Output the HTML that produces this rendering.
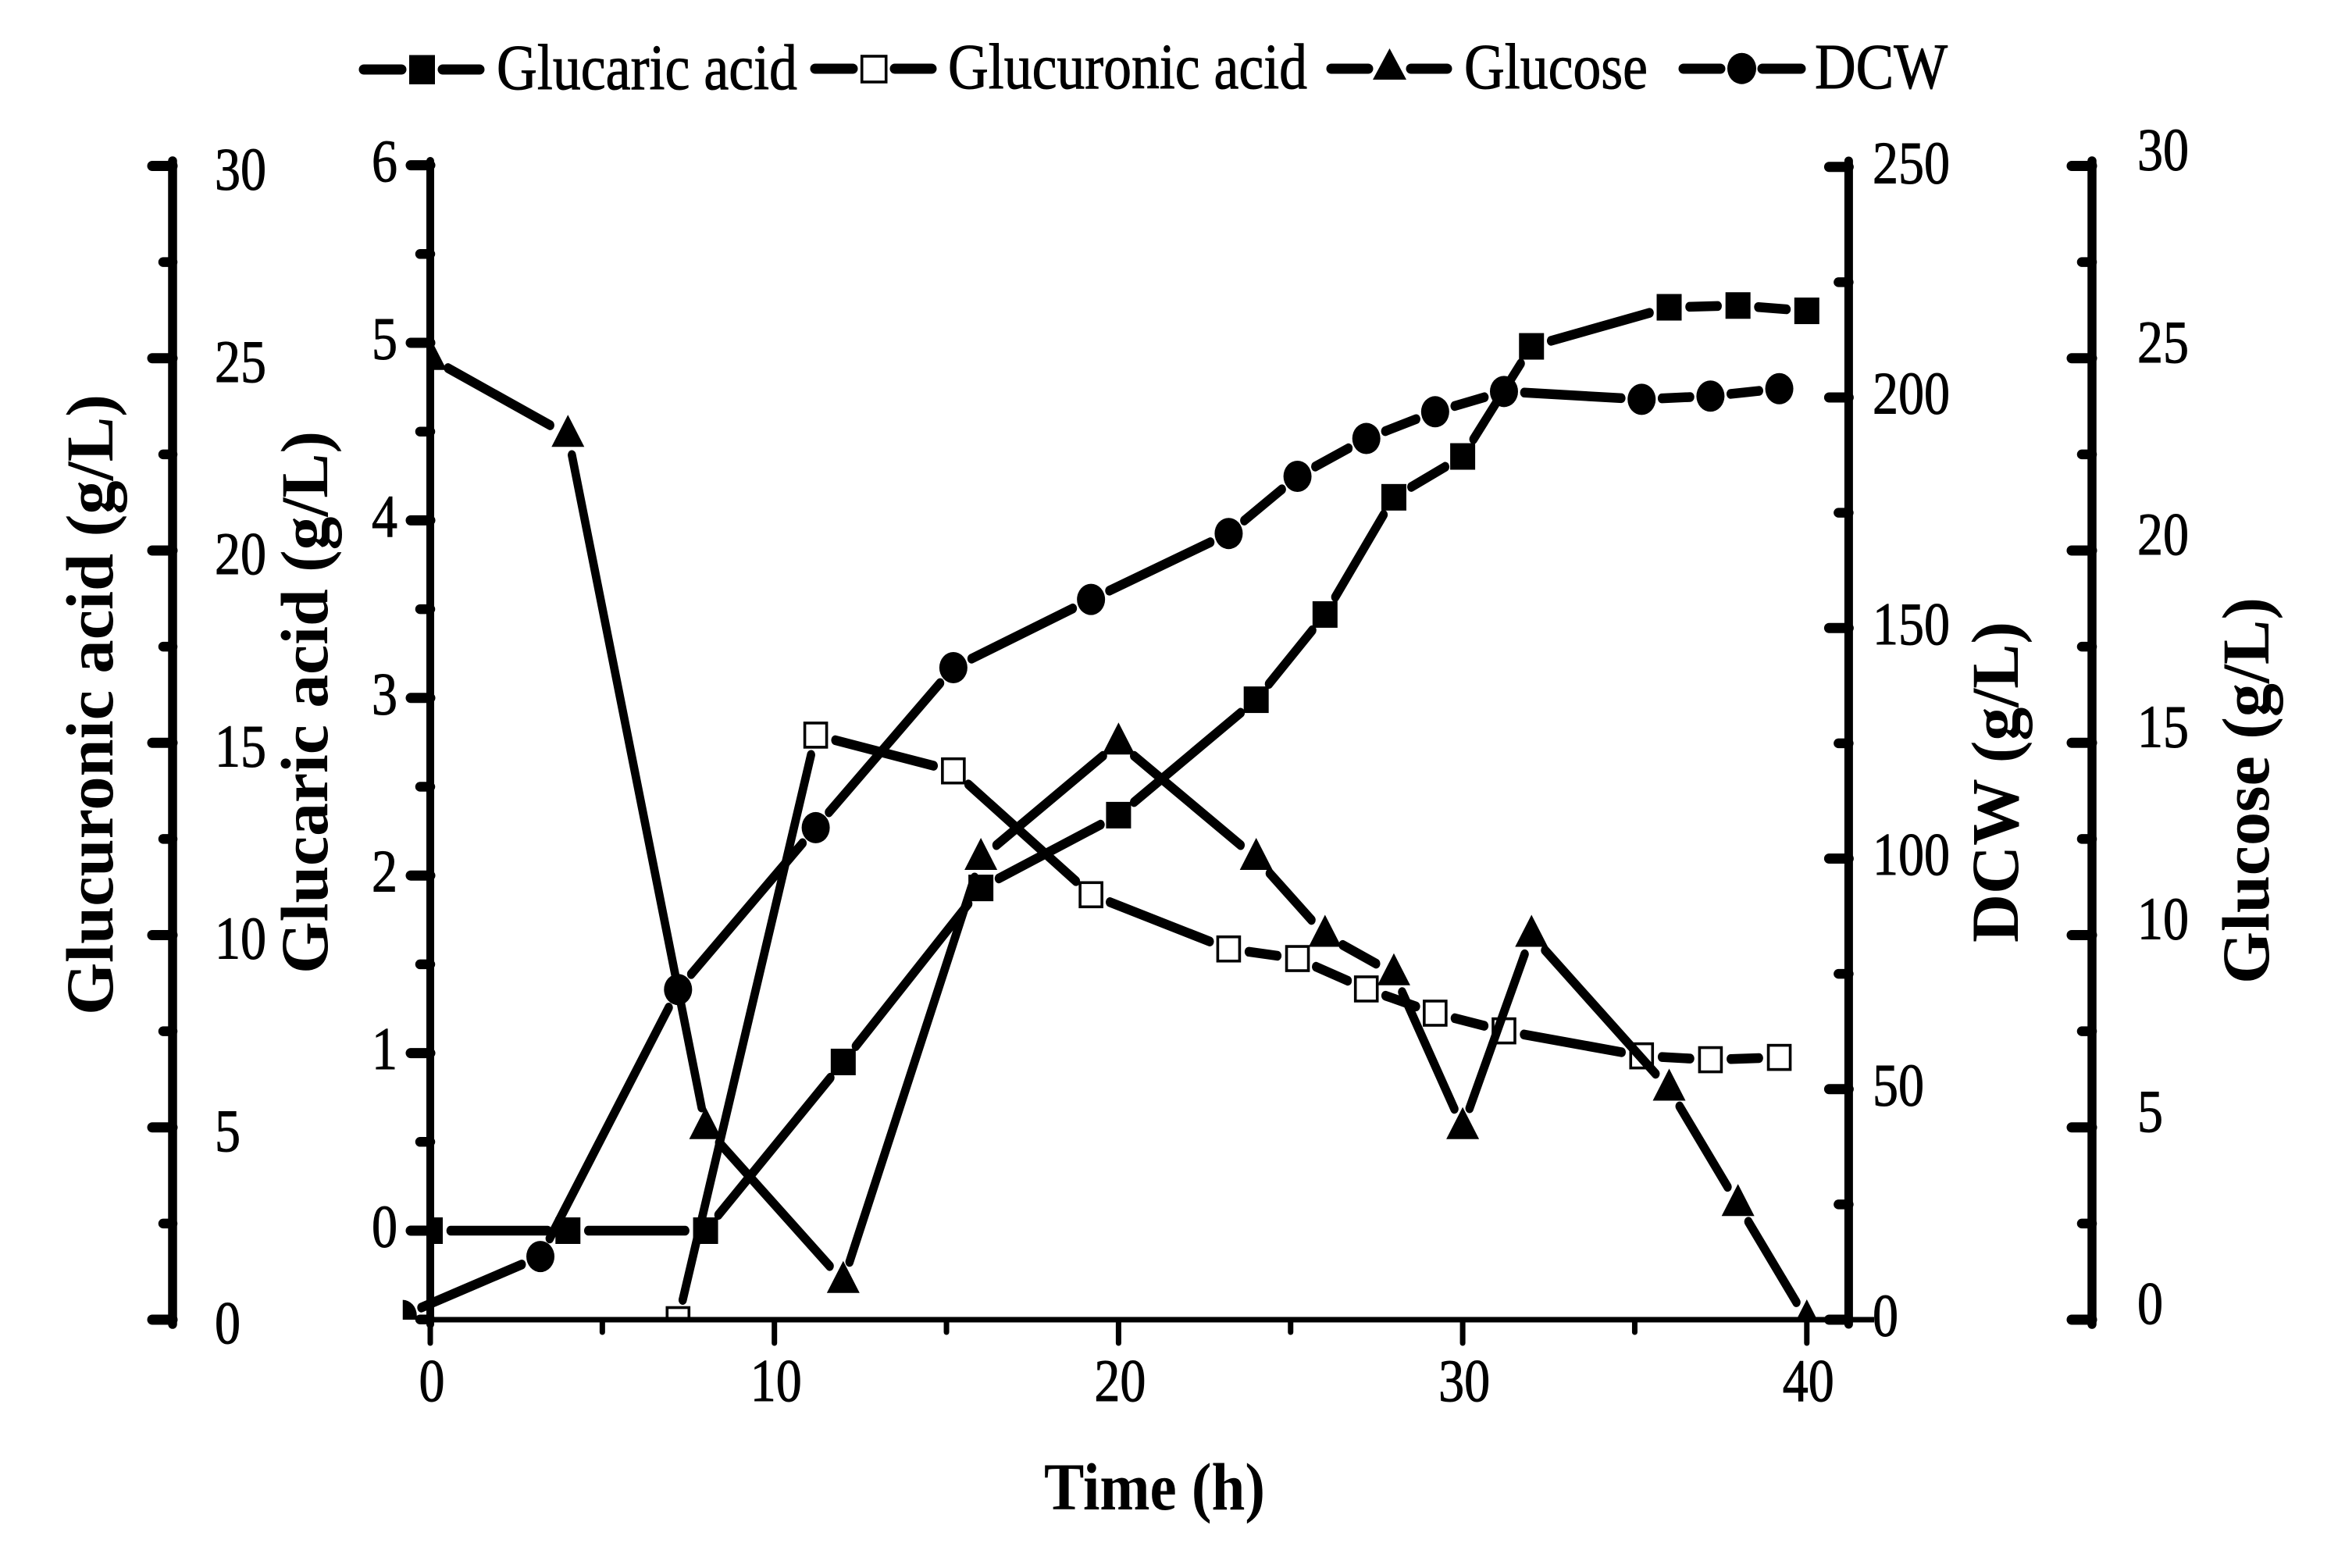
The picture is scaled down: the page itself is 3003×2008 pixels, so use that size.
<!DOCTYPE html>
<html lang="en">
<head>
<meta charset="utf-8">
<title>Fermentation time course</title>
<style>
html,body{margin:0;padding:0;background:#fff;width:3003px;height:2008px;overflow:hidden}
svg{display:block}
text{font-family:"Liberation Serif",serif;fill:#000}
.leg{font-size:83px;stroke:#000;stroke-width:1}
.title{font-size:86px;font-weight:bold}
.tick-label{font-size:77px;stroke:#000;stroke-width:1}
</style>
</head>
<body>
<svg id="chart" xmlns="http://www.w3.org/2000/svg" width="3003" height="2008" viewBox="0 0 3003 2008">
  <rect x="0" y="0" width="3003" height="2008" fill="#fff"/>
  <g id="series-layer"></g>
  <g id="axes-layer"></g>

  <g>
    <g>
      <line x1="466" y1="89" x2="514" y2="89" stroke="#000" stroke-width="13" stroke-linecap="round"/>
      <rect x="524" y="70.5" width="33" height="37.5" fill="#000"/>
      <line x1="567" y1="89" x2="614" y2="89" stroke="#000" stroke-width="13" stroke-linecap="round"/>
      <text class="leg" x="636" y="114" textLength="385" lengthAdjust="spacingAndGlyphs">Glucaric acid</text>
    </g>
    <g>
      <line x1="1044" y1="88" x2="1092" y2="88" stroke="#000" stroke-width="13" stroke-linecap="round"/>
      <rect x="1103.7" y="72" width="31" height="33" fill="#fff" stroke="#000" stroke-width="3.6"/>
      <line x1="1146" y1="88" x2="1193" y2="88" stroke="#000" stroke-width="13" stroke-linecap="round"/>
      <text class="leg" x="1214" y="113" textLength="460" lengthAdjust="spacingAndGlyphs">Glucuronic acid</text>
    </g>
    <g>
      <line x1="1705" y1="88" x2="1752" y2="88" stroke="#000" stroke-width="13" stroke-linecap="round"/>
      <polygon points="1779.5,62 1801,102 1758,102" fill="#000"/>
      <line x1="1807" y1="88" x2="1853" y2="88" stroke="#000" stroke-width="13" stroke-linecap="round"/>
      <text class="leg" x="1875" y="113" textLength="235" lengthAdjust="spacingAndGlyphs">Glucose</text>
    </g>
    <g>
      <line x1="2156" y1="88" x2="2203" y2="88" stroke="#000" stroke-width="13" stroke-linecap="round"/>
      <ellipse cx="2230.5" cy="87.7" rx="18.5" ry="20" fill="#000"/>
      <line x1="2257" y1="88" x2="2306" y2="88" stroke="#000" stroke-width="13" stroke-linecap="round"/>
      <text class="leg" x="2324" y="113" textLength="170" lengthAdjust="spacingAndGlyphs">DCW</text>
    </g>
  </g>

  <text class="title" x="1337" y="1933" textLength="283" lengthAdjust="spacingAndGlyphs">Time (h)</text>
  <text class="title" transform="translate(144,1300) rotate(-90)" x="0" y="0" textLength="795" lengthAdjust="spacingAndGlyphs">Glucuronic acid (g/L)</text>
  <text class="title" transform="translate(419,1247) rotate(-90)" x="0" y="0" textLength="695" lengthAdjust="spacingAndGlyphs">Glucaric acid (g/L)</text>
  <text class="title" transform="translate(2584,1207) rotate(-90)" x="0" y="0" textLength="411" lengthAdjust="spacingAndGlyphs">DCW (g/L)</text>
  <text class="title" transform="translate(2905,1260) rotate(-90)" x="0" y="0" textLength="495" lengthAdjust="spacingAndGlyphs">Glucose (g/L)</text>
</svg>

<script>
// ---- data ----
const timesOnHour = [0, 4, 8, 12, 16, 20, 24, 26, 28, 30, 32, 36, 38, 40];
const timesOffset = [-0.8, 3.2, 7.2, 11.2, 15.2, 19.2, 23.2, 25.2, 27.2, 29.2, 31.2, 35.2, 37.2, 39.2];
const timesGlucuronic = [7.2, 11.2, 15.2, 19.2, 23.2, 25.2, 27.2, 29.2, 31.2, 35.2, 37.2, 39.2];
const glucaricValues = [0, 0, 0, 0.95, 1.93, 2.34, 2.99, 3.47, 4.13, 4.36, 4.98, 5.2, 5.21, 5.18];
const glucuronicValues = [0, 15.2, 14.27, 11.05, 9.64, 9.39, 8.6, 7.97, 7.51, 6.86, 6.76, 6.82];
const glucoseValues = [25, 23, 5, 1, 12, 15, 12, 10, 9, 5, 10, 6, 3, 0];
const dcwValues = [0.9, 13.7, 71.6, 106.7, 141.4, 156.2, 170.5, 182.9, 191.1, 196.9, 201.3, 199.6, 200.3, 201.9];

const xMajorTicks = [0, 10, 20, 30, 40];
const xMinorTicks = [5, 15, 25, 35];
const glucuronicMajorTicks = [0, 5, 10, 15, 20, 25, 30];
const glucuronicMinorTicks = [2.5, 7.5, 12.5, 17.5, 22.5, 27.5];
const glucaricMajorTicks = [0, 1, 2, 3, 4, 5, 6];
const glucaricMinorTicks = [-0.5, 0.5, 1.5, 2.5, 3.5, 4.5, 5.5];
const dcwMajorTicks = [0, 50, 100, 150, 200, 250];
const dcwMinorTicks = [25, 75, 125, 175, 225];
const glucoseMajorTicks = [0, 5, 10, 15, 20, 25, 30];
const glucoseMinorTicks = [2.5, 7.5, 12.5, 17.5, 22.5, 27.5];

// ---- axis functions ----
const PLOT_BOTTOM = 1690;
function xScale(t) { return 551 + 44.07 * t; }
function yGlucaric(v) { return 1576 - 227.4 * v; }
function yGlucuronic(v) { return PLOT_BOTTOM - 49.25 * v; }
function yGlucose(v) { return PLOT_BOTTOM - 49.25 * v; }
function yDcw(v) { return PLOT_BOTTOM - 5.905 * v; }

const SVGNS = 'http://www.w3.org/2000/svg';
const K = 0.85;           // the figure is squeezed horizontally; lines are drawn in a squeezed group
const GAP = 26;           // distance from marker centre to where a line segment stops

function shape(tag, attrs, parent) {
  const node = document.createElementNS(SVGNS, tag);
  for (const key in attrs) node.setAttribute(key, attrs[key]);
  parent.appendChild(node);
  return node;
}

const seriesLayer = document.getElementById('series-layer');
const axesLayer = document.getElementById('axes-layer');
const defs = shape('defs', {}, document.getElementById('chart'));

function drawSeries(id, times, values, yFn, marker, clipStart) {
  const clip = shape('clipPath', { id: 'clip-' + id }, defs);
  shape('rect', { x: xScale(clipStart), y: 0, width: 3003, height: PLOT_BOTTOM }, clip);

  const group = shape('g', { 'clip-path': 'url(#clip-' + id + ')' }, seriesLayer);
  
  

  const lineGroup = shape('g', { transform: 'scale(' + K + ',1)' }, group);
  
  

  for (let i = 0; i < times.length - 1; i++) {
    const x1 = xScale(times[i]), y1 = yFn(values[i]);
    const x2 = xScale(times[i + 1]), y2 = yFn(values[i + 1]);
    const len = Math.hypot(x2 - x1, y2 - y1);
    if (len <= 2 * GAP) continue;
    const ux = (x2 - x1) / len, uy = (y2 - y1) / len;
    const seg = shape('line', {
      x1: (x1 + ux * GAP) / K, y1: y1 + uy * GAP,
      x2: (x2 - ux * GAP) / K, y2: y2 - uy * GAP,
      stroke: '#000', 'stroke-width': 12.5, 'stroke-linecap': 'round'
    }, lineGroup);
    
    
  }

  for (let i = 0; i < times.length; i++) {
    const cx = xScale(times[i]), cy = yFn(values[i]);
    let mark;
    if (marker === 'square') {
      mark = shape('rect', { x: cx - 16, y: cy - 17, width: 32, height: 34, fill: '#000' }, group);
    } else if (marker === 'open') {
      mark = shape('rect', { x: cx - 14, y: cy - 15.5, width: 28, height: 31, fill: '#fff', stroke: '#000', 'stroke-width': 3.6 }, group);
    } else if (marker === 'triangle') {
      mark = shape('polygon', { points: cx + ',' + (cy - 26) + ' ' + (cx + 21) + ',' + (cy + 15) + ' ' + (cx - 21) + ',' + (cy + 15), fill: '#000' }, group);
    } else {
      mark = shape('ellipse', { cx: cx, cy: cy, rx: 18, ry: 20, fill: '#000' }, group);
    }
    
    
  }
}

drawSeries('glucaric', timesOnHour, glucaricValues, yGlucaric, 'square', 0);
drawSeries('glucuronic', timesGlucuronic, glucuronicValues, yGlucuronic, 'open', -0.8);
drawSeries('glucose', timesOnHour, glucoseValues, yGlucose, 'triangle', 0);
drawSeries('dcw', timesOffset, dcwValues, yDcw, 'circle', -0.8);

function label(text, x, y, anchor, name) {
  const s = String(text);
  const node = shape('text', { x: x, y: y, 'text-anchor': anchor, textLength: s.length * 33, lengthAdjust: 'spacingAndGlyphs', class: 'tick-label' }, axesLayer);
  node.textContent = s;
  
  
}

function drawYAxis(id, axisX, width, majorLen, minorLen, majors, minors, yFn, labelX, anchor, baseOffset) {
  const spine = shape('line', { x1: axisX, x2: axisX, y1: 206, y2: PLOT_BOTTOM + 6, stroke: '#000', 'stroke-width': width, 'stroke-linecap': 'round' }, axesLayer);
  
  
  majors.forEach(function (v) {
    const y = yFn(v);
    const tick = shape('line', { x1: axisX - majorLen + 6, x2: axisX, y1: y, y2: y, stroke: '#000', 'stroke-width': 13, 'stroke-linecap': 'round' }, axesLayer);
    
    
    label(v, labelX, y + baseOffset, anchor, id + '-tick-label');
  });
  minors.forEach(function (v) {
    const y = yFn(v);
    const tick = shape('line', { x1: axisX - minorLen + 6, x2: axisX, y1: y, y2: y, stroke: '#000', 'stroke-width': 12.5, 'stroke-linecap': 'round' }, axesLayer);
    
    
  });
}

drawYAxis('glucuronic', 221, 11.5, 32, 18, glucuronicMajorTicks, glucuronicMinorTicks, yGlucuronic, 275, 'start', 30);
drawYAxis('glucaric', 551, 10, 31, 19, glucaricMajorTicks, glucaricMinorTicks, yGlucaric, 509, 'end', 20.5);
drawYAxis('dcw', 2367.4, 11, 31, 19, dcwMajorTicks, dcwMinorTicks, yDcw, 2398, 'start', 20.5);
drawYAxis('glucose', 2679, 11.5, 32, 19, glucoseMajorTicks, glucoseMinorTicks, yGlucose, 2737, 'start', 5);

const xAxisLine = shape('line', { x1: 551, x2: 2400, y1: PLOT_BOTTOM, y2: PLOT_BOTTOM, stroke: '#000', 'stroke-width': 7 }, axesLayer);



xMajorTicks.forEach(function (t) {
  const x = xScale(t);
  const tick = shape('line', { x1: x, x2: x, y1: PLOT_BOTTOM, y2: 1720, stroke: '#000', 'stroke-width': 7, 'stroke-linecap': 'round' }, axesLayer);
  
  
  label(t, x + 2, 1794, 'middle', 'x-tick-label');
});
xMinorTicks.forEach(function (t) {
  const x = xScale(t);
  const tick = shape('line', { x1: x, x2: x, y1: PLOT_BOTTOM, y2: 1706, stroke: '#000', 'stroke-width': 7, 'stroke-linecap': 'round' }, axesLayer);
  
  
});
</script>
</body>
</html>
